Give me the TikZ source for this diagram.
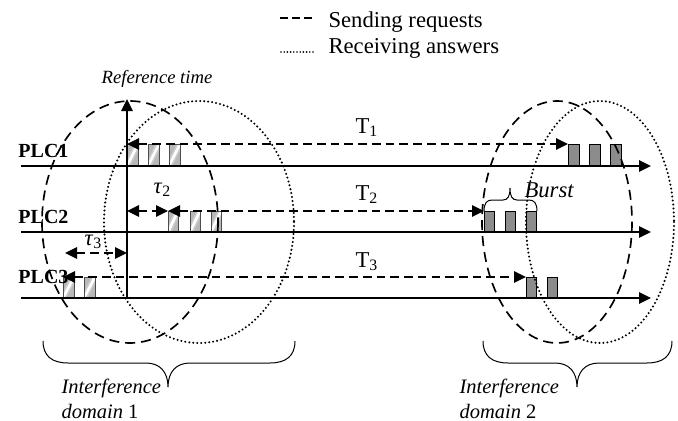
\documentclass[tikz,border=0pt]{standalone}
\usepackage{fontspec}
\setmainfont{Liberation Serif}
\usetikzlibrary{arrows.meta}

\tikzset{every picture/.style={line width=0.75pt}}

\begin{document}
\begin{tikzpicture}[x=0.75pt,y=0.75pt,yscale=-1,xscale=1,
  axisline/.style={line width=1.6pt,-{Triangle[length=9pt,width=8.5pt]}},
  msgarrow/.style={line width=1.6pt,dash pattern=on 6.5pt off 3.8pt,{Triangle[length=9pt,width=8.5pt]}-{Triangle[length=9pt,width=8.5pt]}},
  senddomain/.style={line width=1.25pt,dash pattern=on 7.5pt off 4.5pt},
  recvdomain/.style={line width=1.7pt,line cap=round,dash pattern=on 0pt off 3pt},
  reqpkt/.style={draw=black!70,line width=0.6pt,fill=black!28,
    path picture={\draw[white!80!black,line width=4.5pt] (path picture bounding box.south west) -- (path picture bounding box.north east);
      \draw[white,line width=2pt] (path picture bounding box.south west) -- (path picture bounding box.north east);}},
  anspkt/.style={draw=black,line width=0.6pt,fill=black!45},
  lbl/.style={inner sep=0.75pt}]
\useasboundingbox (0,0) rectangle (678,421);

%Request packets (hatched)
\foreach \x in {127,148,169} \draw[reqpkt] (\x,144) rectangle ++(11,22);
\foreach \x in {168,190,211} \draw[reqpkt] (\x,211) rectangle ++(10,21);
\foreach \x in {63,84} \draw[reqpkt] (\x,277) rectangle ++(11,21);
%Answer packets
\foreach \x in {568,589,610} \draw[anspkt] (\x,144) rectangle ++(11,22);
\foreach \x in {484,505,526} \draw[anspkt] (\x,211) rectangle ++(10,21);
\foreach \x in {526,547} \draw[anspkt] (\x,277) rectangle ++(10,21);

%Time axes
\coordinate (ax1a) at (21,166); \coordinate (ax1b) at (651,166);
\coordinate (ax2a) at (21,232); \coordinate (ax2b) at (651,232);
\coordinate (ax3a) at (21,298); \coordinate (ax3b) at (651,298);
\coordinate (ref0) at (127,298); \coordinate (ref1) at (127,99);
\draw[axisline] (ax1a) -- (ax1b);
\draw[axisline] (ax2a) -- (ax2b);
\draw[axisline] (ax3a) -- (ax3b);
\draw[axisline] (ref0) -- (ref1);

%Request / answer delays
\coordinate (t1a) at (127,144); \coordinate (t1b) at (568,144);
\coordinate (t2a) at (168,211); \coordinate (t2b) at (484,211);
\coordinate (t3a) at (63,277);  \coordinate (t3b) at (526,277);
\coordinate (tau2a) at (127,211); \coordinate (tau3a) at (65,253); \coordinate (tau3b) at (127,253);
\draw[msgarrow] (t1a) -- (t1b);
\draw[msgarrow] (t2a) -- (t2b);
\draw[msgarrow] (t3a) -- (t3b);
\draw[msgarrow] (tau2a) -- (t2a);
\draw[msgarrow] (tau3a) -- (tau3b);

%Interference domains
\draw[senddomain] (130,222) ellipse [x radius=88, y radius=121];
\draw[recvdomain] (199,222) ellipse [x radius=95, y radius=121];
\draw[senddomain] (557,222) ellipse [x radius=75, y radius=121];
\draw[recvdomain] (600,222) ellipse [x radius=74, y radius=121];

%Braces
\draw (484,211) .. controls (484,203) and (487,200) .. (492,200) -- (503,200) .. controls (508,200) and (510,196) .. (510,188) .. controls (510,196) and (512,200) .. (517,200) -- (529,200) .. controls (534,200) and (537,203) .. (537,211);
\draw (43,341) .. controls (43,356) and (52,363) .. (68,363) -- (146,363) .. controls (160,363) and (168,372) .. (168,387) .. controls (168,372) and (176,363) .. (190,363) -- (270,363) .. controls (286,363) and (295,356) .. (295,341);
\draw (483,341) .. controls (483,356) and (492,363) .. (508,363) -- (555,363) .. controls (569,363) and (577,372) .. (577,387) .. controls (577,372) and (585,363) .. (599,363) -- (647,363) .. controls (663,363) and (672,356) .. (672,341);

%Legend
\coordinate (lgs1) at (280,18); \coordinate (lgs2) at (312,18);
\coordinate (lgr1) at (281,52); \coordinate (lgr2) at (313,52);
\draw[line width=1.2pt,dash pattern=on 6pt off 3pt] (lgs1) -- (lgs2);
\draw[line width=1.4pt,line cap=round,dash pattern=on 0pt off 2.4pt] (lgr1) -- (lgr2);

% Text Node
\node[lbl,anchor=base west,font=\fontsize{17}{20}\selectfont] (sendtxt) at (327,27) {Sending requests};
% Text Node
\node[lbl,anchor=base west,font=\fontsize{17}{20}\selectfont] (recvtxt) at (327,53) {Receiving answers};
% Text Node
\node[lbl,anchor=base,font=\itshape\fontsize{14}{16}\selectfont] (reftime) at (157,83) {Reference time};
% Text Node
\node[lbl,anchor=base west,font=\bfseries\fontsize{15}{16}\selectfont] (plc1) at (17,157) {PLC1};
% Text Node
\node[lbl,anchor=base west,font=\bfseries\fontsize{15}{16}\selectfont] (plc2) at (17,223) {PLC2};
% Text Node
\node[lbl,anchor=base west,font=\bfseries\fontsize{15}{16}\selectfont] (plc3) at (17,283) {PLC3};
% Text Node
\node[lbl,anchor=base west,font=\fontsize{17}{20}\selectfont] (T1) at (354,133) {T\textsubscript{1}};
% Text Node
\node[lbl,anchor=base west,font=\fontsize{17}{20}\selectfont] (T2) at (354,200) {T\textsubscript{2}};
% Text Node
\node[lbl,anchor=base west,font=\fontsize{17}{20}\selectfont] (T3) at (354,267) {T\textsubscript{3}};
% Text Node
\node[lbl,anchor=base west,font=\fontsize{17}{20}\selectfont] (tau2) at (152,193) {\textit{τ}\textsubscript{2}};
% Text Node
\node[lbl,anchor=base west,font=\fontsize{17}{20}\selectfont] (tau3) at (83,245) {\textit{τ}\textsubscript{3}};
% Text Node
\node[lbl,anchor=base west,font=\itshape\fontsize{17}{20}\selectfont] (burst) at (523,197) {Burst};
% Text Node
\node[lbl,anchor=base west,font=\fontsize{15.4}{18}\selectfont] (dom1a) at (60,393) {\textit{Interference}};
% Text Node
\node[lbl,anchor=base west,font=\fontsize{15.4}{18}\selectfont] (dom1b) at (60,418) {\textit{domain} 1};
% Text Node
\node[lbl,anchor=base west,font=\fontsize{15.4}{18}\selectfont] (dom2a) at (458,393) {\textit{Interference}};
% Text Node
\node[lbl,anchor=base west,font=\fontsize{15.4}{18}\selectfont] (dom2b) at (458,418) {\textit{domain} 2};

\end{tikzpicture}
\end{document}
